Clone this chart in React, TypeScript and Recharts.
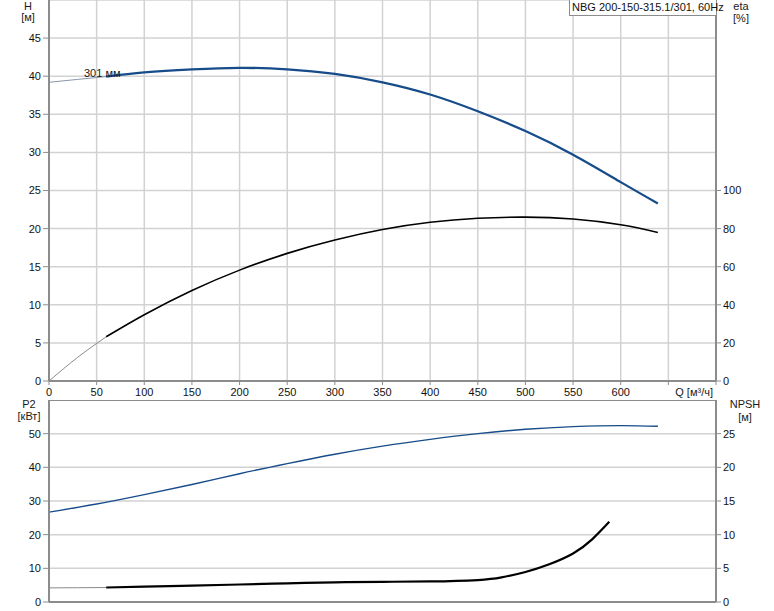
import { ComposedChart, Line, XAxis, YAxis, CartesianGrid, ReferenceLine } from 'recharts';

// flow axis
const Q_TICKS = [0, 50, 100, 150, 200, 250, 300, 350, 400, 450, 500, 550, 600, 650, 700];

// head curve (thin start segment + main segment)
const H_THIN_Q = [0, 30, 60];
const H_THIN = [39.2, 39.58, 39.95];
const H_Q = [60, 100, 150, 200, 250, 300, 350, 400, 450, 500, 550, 600, 639];
const H_VAL = [39.95, 40.5, 40.9, 41.1, 40.9, 40.3, 39.2, 37.6, 35.4, 32.8, 29.7, 26.1, 23.3];
const H_TICKS = [0, 5, 10, 15, 20, 25, 30, 35, 40, 45];

// efficiency
const ETA_THIN_Q = [0, 30, 60];
const ETA_THIN = [0, 12.4, 23.2];
const ETA_Q = [60, 100, 150, 200, 250, 300, 350, 400, 450, 500, 550, 600, 639];
const ETA_VAL = [23.2, 34.8, 47.5, 58.2, 67.0, 74.0, 79.5, 83.3, 85.4, 86.0, 85.0, 82.0, 78.0];
const ETA_TICKS = [0, 20, 40, 60, 80, 100];

// power
const P2_Q = [0, 50, 100, 150, 200, 250, 300, 350, 400, 450, 500, 550, 600, 639];
const P2_VAL = [26.7, 29.1, 31.9, 34.9, 38.1, 41.1, 43.9, 46.3, 48.3, 50.0, 51.3, 52.1, 52.4, 52.2];
const P2_TICKS = [0, 10, 20, 30, 40, 50];

// NPSH
const NPSH_THIN_Q = [0, 30, 60];
const NPSH_THIN = [2.1, 2.12, 2.15];
const NPSH_Q = [60, 100, 150, 200, 250, 300, 350, 400, 450, 475, 500, 525, 550, 570, 588];
const NPSH_VAL = [2.15, 2.27, 2.42, 2.6, 2.78, 2.92, 3.0, 3.05, 3.26, 3.65, 4.45, 5.6, 7.2, 9.3, 11.9];
const NPSH_TICKS = [0, 5, 10, 15, 20, 25];

const rows = (qs: number[], vs: number[]) => qs.map((q, i) => ({ q, v: vs[i] }));

const FONT = '"Liberation Sans", Arial, sans-serif';
const AXIS = '#8c8c8c';
const GRID = '#d2d2d2';
const BLUE = '#174c8a';
const tickStyle = { fontSize: 11, fill: '#111', fontFamily: FONT };

const label = (text: string, left: number, top: number, width: number, align: 'left' | 'center' | 'right' = 'center') => (
  <div
    style={{
      position: 'absolute',
      left,
      top,
      width,
      textAlign: align,
      fontSize: 11,
      lineHeight: '12px',
      fontFamily: FONT,
      color: '#1a1a1a',
      whiteSpace: 'nowrap',
    }}
  >
    {text}
  </div>
);

const App = () => {
  return (
    <div style={{ position: 'absolute', left: 0, top: 0, width: 774, height: 611, background: '#fff', overflow: 'hidden' }}>
      <div style={{ position: 'absolute', left: 0, top: 0 }}>
        <ComposedChart width={774} height={400} margin={{ top: 0, right: 0, bottom: 0, left: 0 }}>
          <CartesianGrid yAxisId="h" stroke={GRID} strokeWidth={1.5} />
          <XAxis
            type="number"
            dataKey="q"
            domain={[0, 700]}
            ticks={Q_TICKS}
            interval={0}
            height={19}
            tick={tickStyle}
            tickFormatter={(v: number) => (v >= 650 ? '' : String(v))}
            tickSize={4}
            tickMargin={3}
            axisLine={{ stroke: AXIS, strokeWidth: 2 }}
            tickLine={{ stroke: AXIS }}
            allowDataOverflow
          />
          <YAxis
            yAxisId="h"
            orientation="left"
            type="number"
            domain={[0, 50]}
            ticks={H_TICKS}
            interval={0}
            width={49}
            tick={tickStyle}
            tickSize={6}
            tickMargin={2}
            axisLine={{ stroke: AXIS, strokeWidth: 2 }}
            tickLine={{ stroke: AXIS }}
            allowDataOverflow
          />
          <YAxis
            yAxisId="eta"
            orientation="right"
            type="number"
            domain={[0, 200]}
            ticks={ETA_TICKS}
            interval={0}
            width={58}
            tick={tickStyle}
            tickSize={5}
            tickMargin={2}
            axisLine={{ stroke: AXIS, strokeWidth: 2 }}
            tickLine={{ stroke: AXIS }}
            allowDataOverflow
          />
          <Line yAxisId="h" data={rows(H_THIN_Q, H_THIN)} dataKey="v" type="natural" stroke="#8a96a8" strokeWidth={1} dot={false} activeDot={false} isAnimationActive={false} />
          <Line yAxisId="h" data={rows(H_Q, H_VAL)} dataKey="v" type="natural" stroke={BLUE} strokeWidth={2.3} dot={false} activeDot={false} isAnimationActive={false} />
          <Line yAxisId="eta" data={rows(ETA_THIN_Q, ETA_THIN)} dataKey="v" type="natural" stroke="#8a8a8a" strokeWidth={1} dot={false} activeDot={false} isAnimationActive={false} />
          <Line yAxisId="eta" data={rows(ETA_Q, ETA_VAL)} dataKey="v" type="natural" stroke="#000" strokeWidth={1.6} dot={false} activeDot={false} isAnimationActive={false} />
        </ComposedChart>
      </div>

      <div style={{ position: 'absolute', left: 0, top: 400 }}>
        <ComposedChart width={774} height={211} margin={{ top: 0, right: 0, bottom: 0, left: 0 }}>
          <CartesianGrid yAxisId="p2" stroke={GRID} strokeWidth={1.5} />
          <XAxis
            type="number"
            dataKey="q"
            domain={[0, 700]}
            ticks={Q_TICKS}
            interval={0}
            height={9}
            tick={false}
            tickLine={false}
            axisLine={{ stroke: AXIS, strokeWidth: 2 }}
            allowDataOverflow
          />
          <YAxis
            yAxisId="p2"
            orientation="left"
            type="number"
            domain={[0, 60]}
            ticks={P2_TICKS}
            interval={0}
            width={49}
            tick={tickStyle}
            tickSize={6}
            tickMargin={2}
            axisLine={{ stroke: AXIS, strokeWidth: 2 }}
            tickLine={{ stroke: AXIS }}
            allowDataOverflow
          />
          <YAxis
            yAxisId="npsh"
            orientation="right"
            type="number"
            domain={[0, 30]}
            ticks={NPSH_TICKS}
            interval={0}
            width={58}
            tick={tickStyle}
            tickSize={5}
            tickMargin={2}
            axisLine={{ stroke: AXIS, strokeWidth: 2 }}
            tickLine={{ stroke: AXIS }}
            allowDataOverflow
          />
          <ReferenceLine yAxisId="p2" y={60} stroke={AXIS} strokeWidth={2} />
          <Line yAxisId="p2" data={rows(P2_Q, P2_VAL)} dataKey="v" type="natural" stroke={BLUE} strokeWidth={1.4} dot={false} activeDot={false} isAnimationActive={false} />
          <Line yAxisId="npsh" data={rows(NPSH_THIN_Q, NPSH_THIN)} dataKey="v" type="natural" stroke="#8a8a8a" strokeWidth={1} dot={false} activeDot={false} isAnimationActive={false} />
          <Line yAxisId="npsh" data={rows(NPSH_Q, NPSH_VAL)} dataKey="v" type="natural" stroke="#000" strokeWidth={2.2} dot={false} activeDot={false} isAnimationActive={false} />
        </ComposedChart>
      </div>

      {label('H', 18, 0, 20)}
      {label('[м]', 18, 11, 20)}
      {label('eta', 731, 0, 20)}
      {label('[%]', 731, 12, 20)}
      {label('P2', 14, 398, 30)}
      {label('[кВт]', 9, 410, 40)}
      {label('NPSH', 727, 398, 36)}
      {label('[м]', 735, 411, 20)}
      {label('301 мм', 84, 67, 40, 'left')}
      {label('Q [м³/ч]', 633, 386, 80, 'right')}

      <div
        style={{
          position: 'absolute',
          left: 569,
          top: -1,
          width: 148,
          height: 17,
          boxSizing: 'border-box',
          border: '1px solid #8c8c8c',
          background: '#fff',
          fontSize: 11,
          lineHeight: '15px',
          paddingLeft: 2,
          fontFamily: FONT,
          color: '#111',
          whiteSpace: 'nowrap',
        }}
      >
        NBG 200-150-315.1/301, 60Hz
      </div>
    </div>
  );
};

export default App;
